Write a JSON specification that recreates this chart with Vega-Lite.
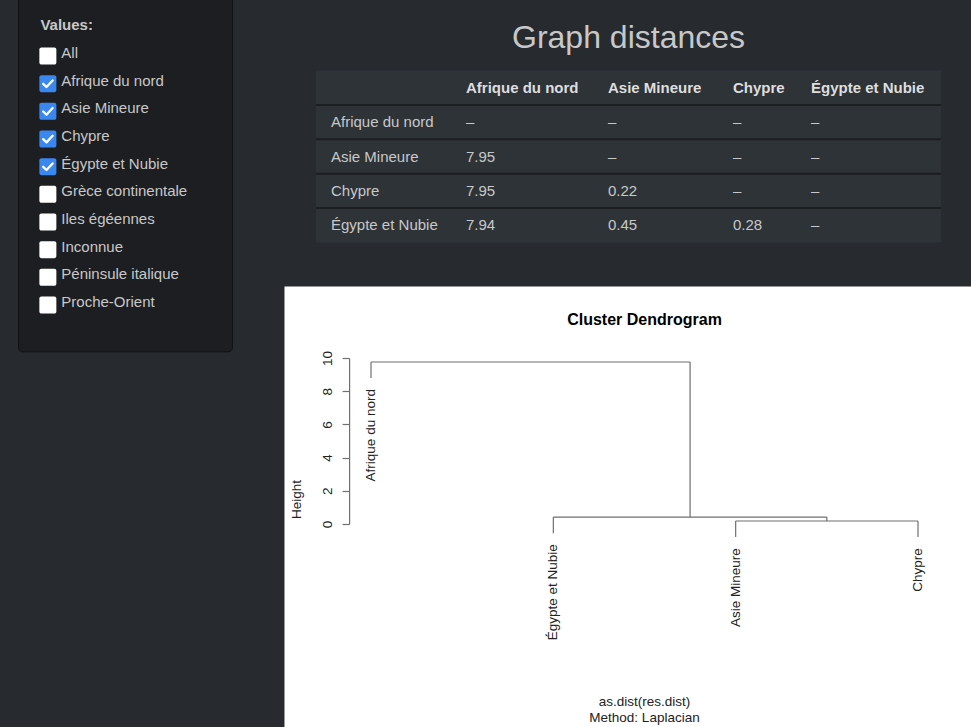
{
  "$schema": "https://vega.github.io/schema/vega-lite/v6.json",
  "width": 971,
  "height": 727,
  "autosize": "none",
  "padding": 0,
  "background": "#272b30",
  "config": {"view": {"stroke": null}, "font": "Liberation Sans"},
  "datasets": {
    "choices": [
      {"i": 1, "label": "All", "checked": false},
      {"i": 2, "label": "Afrique du nord", "checked": true},
      {"i": 3, "label": "Asie Mineure", "checked": true},
      {"i": 4, "label": "Chypre", "checked": true},
      {"i": 5, "label": "Égypte et Nubie", "checked": true},
      {"i": 6, "label": "Grèce continentale", "checked": false},
      {"i": 7, "label": "Iles égéennes", "checked": false},
      {"i": 8, "label": "Inconnue", "checked": false},
      {"i": 9, "label": "Péninsule italique", "checked": false},
      {"i": 10, "label": "Proche-Orient", "checked": false}
    ],
    "trows": [
      {"r": 0, "label": ""},
      {"r": 1, "label": "Afrique du nord"},
      {"r": 2, "label": "Asie Mineure"},
      {"r": 3, "label": "Chypre"},
      {"r": 4, "label": "Égypte et Nubie"}
    ],
    "tcols": [
      {"r": 0, "c": 1, "name": "Afrique du nord"},
      {"r": 0, "c": 2, "name": "Asie Mineure"},
      {"r": 0, "c": 3, "name": "Chypre"},
      {"r": 0, "c": 4, "name": "Égypte et Nubie"}
    ],
    "tcells": [
      {"r": 1, "c": 1, "t": "–"}, {"r": 1, "c": 2, "t": "–"}, {"r": 1, "c": 3, "t": "–"}, {"r": 1, "c": 4, "t": "–"},
      {"r": 2, "c": 1, "t": "7.95"}, {"r": 2, "c": 2, "t": "–"}, {"r": 2, "c": 3, "t": "–"}, {"r": 2, "c": 4, "t": "–"},
      {"r": 3, "c": 1, "t": "7.95"}, {"r": 3, "c": 2, "t": "0.22"}, {"r": 3, "c": 3, "t": "–"}, {"r": 3, "c": 4, "t": "–"},
      {"r": 4, "c": 1, "t": "7.94"}, {"r": 4, "c": 2, "t": "0.45"}, {"r": 4, "c": 3, "t": "0.28"}, {"r": 4, "c": 4, "t": "–"}
    ],
    "segs": [
      {"x": 1, "x2": 1, "y": 8.79, "y2": 9.76},
      {"x": 1, "x2": 2.75, "y": 9.76, "y2": 9.76},
      {"x": 2.75, "x2": 2.75, "y": 0.42, "y2": 9.76},
      {"x": 2, "x2": 3.5, "y": 0.42, "y2": 0.42},
      {"x": 2, "x2": 2, "y": -0.55, "y2": 0.42},
      {"x": 3.5, "x2": 3.5, "y": 0.18, "y2": 0.42},
      {"x": 3, "x2": 4, "y": 0.18, "y2": 0.18},
      {"x": 3, "x2": 3, "y": -0.79, "y2": 0.18},
      {"x": 4, "x2": 4, "y": -0.79, "y2": 0.18}
    ],
    "leaves": [
      {"pos": 1, "name": "Afrique du nord", "end": 8.79},
      {"pos": 2, "name": "Égypte et Nubie", "end": -0.55},
      {"pos": 3, "name": "Asie Mineure", "end": -0.79},
      {"pos": 4, "name": "Chypre", "end": -0.79}
    ]
  },
  "layer": [
    {
      "layer": [
        {
          "data": {"values": [{}]},
          "mark": {"type": "rect", "fill": "#1c1e22", "stroke": "#101114", "strokeWidth": 1, "cornerRadius": 4},
          "encoding": {
            "x": {"datum": 0, "type": "quantitative", "scale": {"domain": [0, 1], "range": [18.5, 232.5], "zero": false, "nice": false}, "axis": null},
            "x2": {"datum": 1},
            "y": {"datum": -1.5, "type": "quantitative", "scale": {"domain": [0, 10], "range": [25.3, 302], "zero": false, "nice": false}, "axis": null},
            "y2": {"datum": 11.8}
          }
        },
        {
          "data": {"values": [{"t": "Values:"}]},
          "mark": {"type": "text", "align": "left", "baseline": "middle", "fontWeight": "bold", "fontSize": 15, "color": "#c8c8c8"},
          "encoding": {
            "x": {"datum": 0.1023, "type": "quantitative", "axis": null},
            "y": {"datum": 0, "type": "quantitative", "axis": null},
            "text": {"field": "t"}
          }
        },
        {
          "data": {"name": "choices"},
          "mark": {"type": "point", "shape": "M-0.76,-1H0.76A0.24,0.24 0 0 1 1,-0.76V0.76A0.24,0.24 0 0 1 0.76,1H-0.76A0.24,0.24 0 0 1 -1,0.76V-0.76A0.24,0.24 0 0 1 -0.76,-1Z", "filled": true, "size": 289, "yOffset": 3, "opacity": 1, "strokeWidth": 0},
          "encoding": {
            "x": {"datum": 0.1372, "type": "quantitative", "axis": null},
            "y": {"field": "i", "type": "quantitative", "axis": null},
            "fill": {"condition": {"test": "datum.checked", "value": "#3b87f0"}, "value": "#ffffff"}
          }
        },
        {
          "data": {"name": "choices"},
          "transform": [{"filter": "datum.checked"}],
          "mark": {"type": "point", "shape": "M-0.55,0.02L-0.16,0.4L0.56,-0.38", "filled": false, "stroke": "#ffffff", "strokeWidth": 2.3, "size": 289, "yOffset": 3, "opacity": 1, "strokeCap": "round", "strokeJoin": "round"},
          "encoding": {
            "x": {"datum": 0.1372, "type": "quantitative", "axis": null},
            "y": {"field": "i", "type": "quantitative", "axis": null}
          }
        },
        {
          "data": {"name": "choices"},
          "mark": {"type": "text", "align": "left", "baseline": "middle", "fontSize": 15, "color": "#c8c8c8"},
          "encoding": {
            "x": {"datum": 0.2, "type": "quantitative", "axis": null},
            "y": {"field": "i", "type": "quantitative", "axis": null},
            "text": {"field": "label"}
          }
        }
      ]
    },
    {
      "layer": [
        {
          "data": {"name": "trows"},
          "mark": {"type": "rect", "fill": "#2e3338"},
          "encoding": {
            "x": {"datum": 0, "type": "quantitative", "scale": {"domain": [0, 1, 2, 3, 4, 5], "range": [316, 451, 593, 718, 796, 941], "zero": false, "nice": false}, "axis": null},
            "x2": {"datum": 5},
            "y": {"field": "r", "type": "ordinal", "scale": {"type": "band", "domain": [0, 1, 2, 3, 4], "range": [70.5, 242.5], "paddingInner": 0, "paddingOuter": 0}, "axis": null}
          }
        },
        {
          "data": {"name": "trows"},
          "transform": [{"filter": "datum.r > 0"}],
          "mark": {"type": "rule", "color": "#1c1e22", "strokeWidth": 2},
          "encoding": {
            "x": {"datum": 0, "type": "quantitative", "axis": null},
            "x2": {"datum": 5},
            "y": {"field": "r", "type": "ordinal", "bandPosition": 0, "axis": null}
          }
        },
        {
          "data": {"name": "trows"},
          "transform": [{"filter": "datum.r > 0"}],
          "mark": {"type": "text", "align": "left", "baseline": "middle", "dx": 15, "fontSize": 15, "color": "#c8c8c8"},
          "encoding": {
            "x": {"datum": 0, "type": "quantitative", "axis": null},
            "y": {"field": "r", "type": "ordinal", "axis": null},
            "text": {"field": "label"}
          }
        },
        {
          "data": {"name": "tcols"},
          "mark": {"type": "text", "align": "left", "baseline": "middle", "dx": 15, "fontSize": 15, "fontWeight": "bold", "color": "#dedede"},
          "encoding": {
            "x": {"field": "c", "type": "quantitative", "axis": null},
            "y": {"field": "r", "type": "ordinal", "axis": null},
            "text": {"field": "name"}
          }
        },
        {
          "data": {"name": "tcells"},
          "mark": {"type": "text", "align": "left", "baseline": "middle", "dx": 15, "fontSize": 15, "color": "#c8c8c8"},
          "encoding": {
            "x": {"field": "c", "type": "quantitative", "axis": null},
            "y": {"field": "r", "type": "ordinal", "axis": null},
            "text": {"field": "t"}
          }
        },
        {
          "data": {"values": [{"r": 0, "t": "Graph distances"}]},
          "mark": {"type": "text", "align": "center", "baseline": "alphabetic", "dy": -40, "fontSize": 32, "color": "#c8c8c8"},
          "encoding": {
            "x": {"datum": 2.284, "type": "quantitative", "axis": null},
            "y": {"field": "r", "type": "ordinal", "axis": null},
            "text": {"field": "t"}
          }
        }
      ]
    },
    {
      "layer": [
        {
          "data": {"values": [{}]},
          "mark": {"type": "rect", "fill": "#ffffff"},
          "encoding": {
            "x": {"datum": 0.5255, "type": "quantitative", "scale": {"domain": [1, 4], "range": [371, 918], "zero": false, "nice": false}, "axis": null},
            "x2": {"datum": 4.5},
            "y": {"datum": 14.3, "type": "quantitative", "scale": {"domain": [0, 10], "range": [524, 358], "zero": false, "nice": false},
              "axis": {"orient": "left", "offset": -349.1, "values": [0, 2, 4, 6, 8, 10], "grid": false, "zindex": 2, "domainColor": "#707070", "domainWidth": 1.2, "tickColor": "#707070", "tickWidth": 1.2, "tickSize": 7, "labelAngle": 270, "labelAlign": "center", "labelBaseline": "alphabetic", "labelPadding": 11, "labelFontSize": 13.5, "labelColor": "#222222", "labelFlush": false, "labelOverlap": false, "title": "Height", "titleAngle": 270, "titleFontSize": 13.5, "titleFontWeight": "normal", "titleColor": "#222222", "titleX": -53, "titleY": 499, "titleAlign": "center", "titleBaseline": "middle"}},
            "y2": {"datum": -14}
          }
        },
        {
          "data": {"name": "segs"},
          "mark": {"type": "rule", "color": "#6e6e6e", "strokeWidth": 1.2},
          "encoding": {
            "x": {"field": "x", "type": "quantitative", "axis": null},
            "x2": {"field": "x2"},
            "y": {"field": "y", "type": "quantitative",
              "axis": {"orient": "left", "offset": -349.1, "values": [0, 2, 4, 6, 8, 10], "grid": false, "zindex": 2, "domainColor": "#707070", "domainWidth": 1.2, "tickColor": "#707070", "tickWidth": 1.2, "tickSize": 7, "labelAngle": 270, "labelAlign": "center", "labelBaseline": "alphabetic", "labelPadding": 11, "labelFontSize": 13.5, "labelColor": "#222222", "labelFlush": false, "labelOverlap": false, "title": "Height", "titleAngle": 270, "titleFontSize": 13.5, "titleFontWeight": "normal", "titleColor": "#222222", "titleX": -53, "titleY": 499, "titleAlign": "center", "titleBaseline": "middle"}},
            "y2": {"field": "y2"}
          }
        },
        {
          "data": {"name": "leaves"},
          "mark": {"type": "text", "angle": 270, "align": "right", "baseline": "middle", "dx": -11, "fontSize": 13.5, "color": "#222222"},
          "encoding": {
            "x": {"field": "pos", "type": "quantitative", "axis": null},
            "y": {"field": "end", "type": "quantitative",
              "axis": {"orient": "left", "offset": -349.1, "values": [0, 2, 4, 6, 8, 10], "grid": false, "zindex": 2, "domainColor": "#707070", "domainWidth": 1.2, "tickColor": "#707070", "tickWidth": 1.2, "tickSize": 7, "labelAngle": 270, "labelAlign": "center", "labelBaseline": "alphabetic", "labelPadding": 11, "labelFontSize": 13.5, "labelColor": "#222222", "labelFlush": false, "labelOverlap": false, "title": "Height", "titleAngle": 270, "titleFontSize": 13.5, "titleFontWeight": "normal", "titleColor": "#222222", "titleX": -53, "titleY": 499, "titleAlign": "center", "titleBaseline": "middle"}},
            "text": {"field": "name"}
          }
        },
        {
          "data": {"values": [{"t": "Cluster Dendrogram"}]},
          "mark": {"type": "text", "align": "center", "baseline": "alphabetic", "fontSize": 16, "fontWeight": "bold", "color": "#000000"},
          "encoding": {
            "x": {"datum": 2.5, "type": "quantitative", "axis": null},
            "y": {"datum": 12, "type": "quantitative",
              "axis": {"orient": "left", "offset": -349.1, "values": [0, 2, 4, 6, 8, 10], "grid": false, "zindex": 2, "domainColor": "#707070", "domainWidth": 1.2, "tickColor": "#707070", "tickWidth": 1.2, "tickSize": 7, "labelAngle": 270, "labelAlign": "center", "labelBaseline": "alphabetic", "labelPadding": 11, "labelFontSize": 13.5, "labelColor": "#222222", "labelFlush": false, "labelOverlap": false, "title": "Height", "titleAngle": 270, "titleFontSize": 13.5, "titleFontWeight": "normal", "titleColor": "#222222", "titleX": -53, "titleY": 499, "titleAlign": "center", "titleBaseline": "middle"}},
            "text": {"field": "t"}
          }
        },
        {
          "data": {"values": [{"t": "as.dist(res.dist)\nMethod: Laplacian"}]},
          "mark": {"type": "text", "align": "center", "baseline": "alphabetic", "fontSize": 13.5, "lineBreak": "\n", "lineHeight": 16.5, "color": "#222222"},
          "encoding": {
            "x": {"datum": 2.5, "type": "quantitative", "axis": null},
            "y": {"datum": -10.96, "type": "quantitative",
              "axis": {"orient": "left", "offset": -349.1, "values": [0, 2, 4, 6, 8, 10], "grid": false, "zindex": 2, "domainColor": "#707070", "domainWidth": 1.2, "tickColor": "#707070", "tickWidth": 1.2, "tickSize": 7, "labelAngle": 270, "labelAlign": "center", "labelBaseline": "alphabetic", "labelPadding": 11, "labelFontSize": 13.5, "labelColor": "#222222", "labelFlush": false, "labelOverlap": false, "title": "Height", "titleAngle": 270, "titleFontSize": 13.5, "titleFontWeight": "normal", "titleColor": "#222222", "titleX": -53, "titleY": 499, "titleAlign": "center", "titleBaseline": "middle"}},
            "text": {"field": "t"}
          }
        }
      ]
    }
  ],
  "resolve": {"scale": {"x": "independent", "y": "independent"}}
}
